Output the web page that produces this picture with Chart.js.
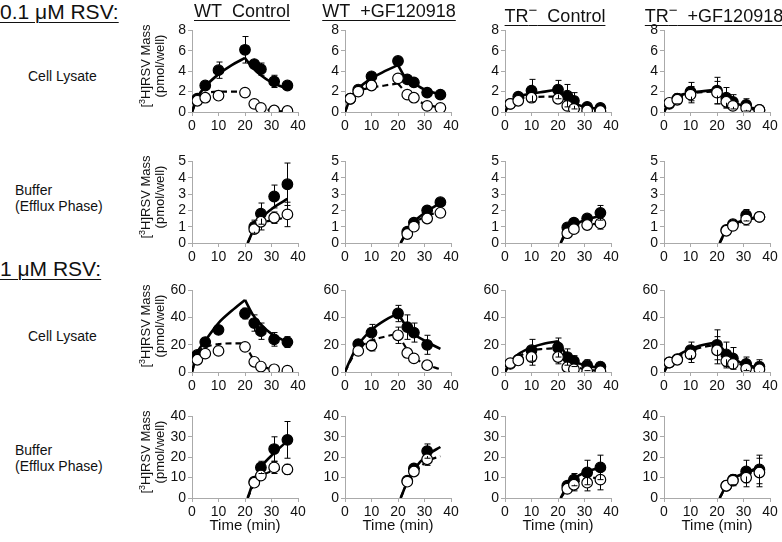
<!DOCTYPE html>
<html>
<head>
<meta charset="utf-8">
<script src="https://cdn.jsdelivr.net/npm/chart.js@4.4.0/dist/chart.umd.min.js"></script>
<style>
  body { margin: 0; background: #fff; font-family: "Liberation Sans", Arial, sans-serif; color: #111; }
  #fig { position: relative; width: 782px; height: 542px; overflow: hidden; }
  .t { position: absolute; white-space: nowrap; }
  .u { text-decoration: underline; text-decoration-thickness: 1px; text-underline-offset: 3px; }
  .ytitle { position: absolute; width: 130px; text-align: center; font-size: 13px; line-height: 14px; transform: translate(-50%, -50%) rotate(-90deg); }
  canvas { position: absolute; }
</style>
</head>
<body>
<div id="fig"></div>
<script>
// time points (min)
var tLys = [2, 5, 10, 20, 23.5, 26, 31, 36];
var tBuf = [23.5, 26, 31, 36];
var tFitLys = [0, 2, 5, 10, 15, 20, 23, 26, 30, 36]; // peak at index 5
var tFitBuf = [21, 23.5, 26, 31, 36];

var panelTitles = ['WT&nbsp;&nbsp;Control', 'WT&nbsp;&nbsp;+GF120918', 'TR<sup>−</sup>&nbsp;&nbsp;Control', 'TR<sup>−</sup>&nbsp;&nbsp;+GF120918'];
var yMax = [8, 5, 60, 40];
var yStep = [2, 1, 20, 10];

// 0.1 uM RSV, cell lysate (columns: WT ctrl, WT +GF, TR- ctrl, TR- +GF)
var lowLysFill = [[1.3, 2.6, 4.1, 6.1, 4.7, 4.2, 3.0, 2.6], [1.3, 2.2, 3.5, 5.0, 3.2, 2.9, 1.9, 1.7], [0.8, 1.5, 2.1, 2.2, 1.6, 1.1, 0.5, 0.4], [0.8, 1.3, 2.0, 2.1, 1.4, 1.0, 0.7, 0.2]];
var lowLysFillErr = [[0.2, 0.3, 0.8, 1.3, 0.3, 0.6, 0.6, 0.2], [0.1, 0.2, 0.2, 0.2, 0.2, 0.2, 0.2, 0.2], [0.1, 0.2, 1.1, 0.9, 1.1, 0.8, 0.2, 0.1], [0.1, 0.5, 0.9, 1.3, 1.0, 0.7, 0.6, 0.1]];
var lowLysOpen = [[1.1, 1.4, 1.6, 1.9, 0.8, 0.4, 0.15, 0.1], [1.3, 2.0, 2.6, 3.3, 1.7, 1.4, 0.6, 0.4], [0.8, 1.1, 1.4, 1.3, 0.6, 0.3, 0.15, 0.1], [0.9, 1.2, 1.7, 1.9, 1.0, 0.6, 0.4, 0.2]];
var lowLysOpenErr = [[0.1, 0.2, 0.2, 0.2, 0.1, 0.1, 0.1, 0.1], [0.1, 0.1, 0.1, 0.2, 0.1, 0.1, 0.1, 0.1], [0.1, 0.1, 0.4, 0.4, 0.1, 0.1, 0.1, 0.1], [0.1, 0.3, 0.8, 1.1, 0.6, 0.2, 0.2, 0.1]];
var lowLysFitFill = [[0, 1.4, 2.5, 3.7, 4.6, 5.3, 4.3, 3.6, 2.9, 2.3], [0, 1.3, 2.3, 3.3, 4.0, 4.6, 3.3, 2.8, 2.2, 1.7], [0, 0.9, 1.5, 1.8, 2.0, 2.2, 1.4, 0.9, 0.5, 0.3], [0, 0.9, 1.5, 1.9, 2.05, 2.2, 1.5, 1.0, 0.6, 0.25]];
var lowLysFitOpen = [[0, 1.3, 1.8, 2.0, 2.0, 2.0, 0.9, 0.45, 0.15, 0.05], [0, 1.3, 2.0, 2.4, 2.6, 2.8, 1.9, 1.3, 0.8, 0.4], [0, 0.9, 1.3, 1.45, 1.5, 1.5, 0.8, 0.4, 0.2, 0.1], [0, 0.9, 1.4, 1.8, 1.95, 2.0, 1.3, 0.8, 0.4, 0.2]];

// 0.1 uM RSV, buffer (efflux phase)
var lowBufFill = [[1.0, 1.8, 2.85, 3.6], [0.7, 1.25, 2.0, 2.5], [0.95, 1.25, 1.5, 1.85], [0.8, 1.15, 1.7, 1.6]];
var lowBufFillErr = [[0.4, 0.65, 0.7, 1.3], [0.1, 0.1, 0.1, 0.1], [0.1, 0.3, 0.15, 0.45], [0.1, 0.1, 0.35, 0.1]];
var lowBufOpen = [[0.85, 1.3, 1.55, 1.75], [0.55, 1.0, 1.5, 1.85], [0.6, 0.85, 1.1, 1.2], [0.75, 1.05, 1.45, 1.6]];
var lowBufOpenErr = [[0.2, 0.5, 0.35, 0.75], [0.05, 0.1, 0.1, 0.1], [0.1, 0.3, 0.1, 0.35], [0.1, 0.1, 0.35, 0.3]];
var lowBufFitFill = [[0, 0.9, 1.5, 2.2, 2.7], [0, 0.75, 1.3, 1.95, 2.45], [0, 0.85, 1.1, 1.45, 1.65], [0, 0.8, 1.1, 1.45, 1.6]];
var lowBufFitOpen = [[0, 0.85, 1.2, 1.4, 1.6], [0, 0.7, 1.2, 1.65, 1.95], [0, 0.65, 0.9, 1.1, 1.2], [0, 0.75, 1.05, 1.4, 1.55]];

// 1 uM RSV, cell lysate
var hiLysFill = [[12.5, 22, 31, 43, 36, 30, 24, 22], [null, 20.5, 29, 43, 33, 29, 20, null], [6, 9, 16, 18, 11, 8, 5, 4], [7, 9.5, 16, 20, 13, 10, 6, 4]];
var hiLysFillErr = [[2, 2, 3.5, 4, 6, 6, 5, 4], [0, 1, 6, 6, 9, 7, 7, 0], [1, 2, 8, 7, 6, 4, 4, 2], [1, 3, 6, 11, 9, 8, 5, 5]];
var hiLysOpen = [[9, 13.5, 15.5, 18.5, 7.5, 4, 2, 1], [null, 15.5, 19.5, 27, 14, 10, 5, null], [6.5, 8.5, 11, 11, 3.5, 2, 0.5, 0.5], [7, 9, 13, 16, 8, 6, 2.5, 2]];
var hiLysOpenErr = [[1, 1, 1, 1, 1, 1, 1, 1], [0, 1, 4, 6, 1, 1, 1, 0], [1, 1, 6, 5, 1, 1, 1, 1], [1, 1, 6, 10, 5, 1, 1, 1]];
var hiLysFitFill = [[0, 14, 23, 36, 45, 53, 42, 35, 28, 22], [0, 9, 20, 31, 38, 43, 34, 28, 23, 17], [0, 7, 13, 18, 21, 22.5, 13, 8, 5, 3], [0, 7, 12, 17, 20, 22, 15, 10, 6, 3]];
var hiLysFitOpen = [[0, 13, 18, 20.5, 21, 21, 10, 5, 2, 1], [0, 8, 17, 23, 26, 28, 18, 11, 6, 2], [0, 6, 11, 16, 17, 17.5, 10, 5, 2, 1], [0, 6, 11, 15.5, 18.5, 20, 13, 8, 5, 2]];

// 1 uM RSV, buffer (efflux phase)
var hiBufFill = [[8, 15, 24, 28.5], [8.5, 14.5, 23, null], [6, 9, 12.5, 15], [6, 9, 13, 14]];
var hiBufFillErr = [[1, 3, 6, 9], [1, 1, 3.5, 0], [1, 3, 6, 6], [1, 2.5, 5.5, 7]];
var hiBufOpen = [[7.5, 11, 15, 14], [8, 13, 19, null], [4.5, 6.5, 7.5, 9], [6, 8.5, 10, 12.5]];
var hiBufOpenErr = [[1, 2, 3, 2.5], [1, 1, 3, 0], [1, 3, 4, 5], [1, 2.5, 4.5, 7]];
var hiBufFitFill = [[0, 9, 15, 22, 28], [0, 8, 14, 21, 25], [0, 6, 9.5, 13, 15], [0, 6, 9.5, 12.5, 15]];
var hiBufFitOpen = [[0, 7, 10.5, 13.5, 15], [0, 7.5, 12, 18, 20.5], [0, 4.5, 7, 9.5, 10], [0, 5.5, 9, 12.5, 14]];

// layout
var colLeft = [192, 345, 505, 664];
var rowTop = [28, 159, 288, 414];
var plotW = 106, plotH = 84;
var yAxisW = 32, xAxisH = 22, padTop = 8, padRight = 10;

var fig = document.getElementById('fig');

function addText(html, left, top, size, cls, center) {
  var d = document.createElement('div');
  d.className = 't ' + (cls || '');
  d.innerHTML = html;
  d.style.left = left + 'px';
  d.style.top = top + 'px';
  d.style.fontSize = size + 'px';
  if (center) d.style.transform = 'translateX(-50%)';
  fig.appendChild(d);
}

function pts(xs, ys) {
  var out = [];
  for (var i = 0; i < xs.length; i++) out.push({ x: xs[i], y: ys[i] });
  return out;
}

// error bars, drawn through the chart's scales
var errorBars = {
  id: 'errorBars',
  afterDatasetsDraw: function (chart) {
    var ctx = chart.ctx, xs = chart.scales.x, ys = chart.scales.y, a = chart.chartArea;
    ctx.save();
    ctx.strokeStyle = '#000';
    ctx.lineWidth = 1;
    chart.data.datasets.forEach(function (ds) {
      if (!ds.err) return;
      ds.data.forEach(function (p, i) {
        var e = ds.err[i];
        if (p.y == null || !e) return;
        var x = Math.round(xs.getPixelForValue(p.x)) + 0.5;
        var yTop = ys.getPixelForValue(p.y + e);
        var yBot = Math.min(ys.getPixelForValue(p.y - e), a.bottom);
        var yc = ys.getPixelForValue(p.y);
        ctx.beginPath();
        if (yTop < yc - 5) { ctx.moveTo(x, yc - 5); ctx.lineTo(x, yTop); ctx.moveTo(x - 3, yTop); ctx.lineTo(x + 3, yTop); }
        if (yBot > yc + 5) { ctx.moveTo(x, yc + 5); ctx.lineTo(x, yBot); if (yBot < a.bottom) { ctx.moveTo(x - 3, yBot); ctx.lineTo(x + 3, yBot); } }
        ctx.stroke();
      });
    });
    ctx.restore();
  }
};

function fitSet(data, dashed) {
  return {
    data: data, showLine: true, pointRadius: 0, borderColor: '#000',
    borderWidth: dashed ? 2.2 : 2.6, borderDash: dashed ? [6, 4] : [],
    cubicInterpolationMode: 'monotone', fill: false, order: dashed ? 3 : 4
  };
}

function markSet(data, err, open) {
  return {
    data: data, err: err, showLine: false, pointRadius: 5.3, pointHoverRadius: 5.3,
    pointBackgroundColor: open ? '#fff' : '#000', pointBorderColor: '#000',
    pointBorderWidth: 1.2, order: open ? 0 : 1
  };
}

function makePanel(r, c, t, fill, fillErr, open, openErr, tFit, fitFill, fitOpen, split) {
  var cv = document.createElement('canvas');
  var w = yAxisW + plotW + padRight, h = padTop + plotH + xAxisH;
  cv.width = w; cv.height = h;
  cv.style.left = (colLeft[c] - yAxisW) + 'px';
  cv.style.top = (rowTop[r] - padTop) + 'px';
  fig.appendChild(cv);

  var sets = [];
  var ff = pts(tFit, fitFill), fo = pts(tFit, fitOpen);
  if (split) {
    sets.push(fitSet(ff.slice(0, split + 1), false), fitSet(ff.slice(split), false));
    sets.push(fitSet(fo.slice(0, split + 1), true), fitSet(fo.slice(split), true));
  } else {
    sets.push(fitSet(ff, false), fitSet(fo, true));
  }
  sets.push(markSet(pts(t, fill), fillErr, false));
  sets.push(markSet(pts(t, open), openErr, true));

  var tickFont = { family: '"Liberation Sans", Arial, sans-serif', size: 14 };
  new Chart(cv, {
    type: 'scatter',
    data: { datasets: sets },
    options: {
      responsive: false, animation: false, devicePixelRatio: 1,
      layout: { padding: { top: padTop, right: padRight, left: 0, bottom: 0 } },
      plugins: { legend: { display: false }, tooltip: { enabled: false } },
      scales: {
        x: {
          type: 'linear', min: 0, max: 40,
          ticks: { stepSize: 10, color: '#111', font: tickFont, padding: 2, maxRotation: 0, autoSkip: false },
          grid: { drawOnChartArea: false, tickLength: 4, color: '#aaa' },
          border: { color: '#aaa', width: 1 },
          afterFit: function (s) { s.height = xAxisH; }
        },
        y: {
          min: 0, max: yMax[r],
          ticks: { stepSize: yStep[r], color: '#111', font: tickFont, padding: 2, autoSkip: false },
          grid: { drawOnChartArea: false, tickLength: 4, color: '#aaa' },
          border: { color: '#aaa', width: 1 },
          afterFit: function (s) { s.width = yAxisW; }
        }
      }
    },
    plugins: [errorBars]
  });
}

for (var c = 0; c < 4; c++) {
  makePanel(0, c, tLys, lowLysFill[c], lowLysFillErr[c], lowLysOpen[c], lowLysOpenErr[c], tFitLys, lowLysFitFill[c], lowLysFitOpen[c], 5);
  makePanel(1, c, tBuf, lowBufFill[c], lowBufFillErr[c], lowBufOpen[c], lowBufOpenErr[c], tFitBuf, lowBufFitFill[c], lowBufFitOpen[c], 0);
  makePanel(2, c, tLys, hiLysFill[c], hiLysFillErr[c], hiLysOpen[c], hiLysOpenErr[c], tFitLys, hiLysFitFill[c], hiLysFitOpen[c], 5);
  makePanel(3, c, tBuf, hiBufFill[c], hiBufFillErr[c], hiBufOpen[c], hiBufOpenErr[c], tFitBuf, hiBufFitFill[c], hiBufFitOpen[c], 0);
}

// texts
addText('0.1 μM RSV:', 0, 0, 21, 'u');
addText('1 μM RSV:', 0, 257, 21, 'u');
var titleCenter = [242, 389, 555, 714];
for (var c = 0; c < 4; c++) {
  addText(panelTitles[c], titleCenter[c], 1, 18, 'u', true);
  addText('Time (min)', colLeft[c] + plotW / 2, 516, 15, '', true);
}
addText('Cell Lysate', 28, 68, 14);
addText('Buffer<br>(Efflux Phase)', 15, 182, 14);
addText('Cell Lysate', 28, 328, 14);
addText('Buffer<br>(Efflux Phase)', 15, 442, 14);
for (var r = 0; r < 4; r++) {
  var d = document.createElement('div');
  d.className = 'ytitle';
  d.innerHTML = '[<sup style="font-size:9px">3</sup>H]RSV Mass<br>(pmol/well)';
  d.style.left = '151px';
  d.style.top = (rowTop[r] + plotH / 2 - 4) + 'px';
  fig.appendChild(d);
}
</script>
</body>
</html>
